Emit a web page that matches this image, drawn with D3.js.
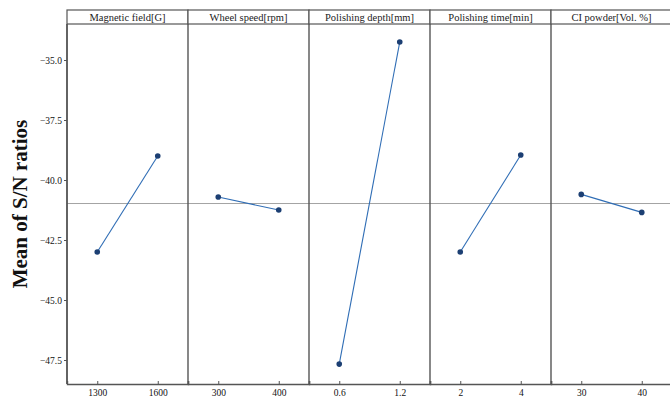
<!DOCTYPE html>
<html><head><meta charset="utf-8">
<script src="https://cdn.jsdelivr.net/npm/d3@7"></script>
<style>body{margin:0;background:#fff}svg{display:block}svg text{font-family:"Liberation Serif","Times New Roman","DejaVu Serif",serif}</style>
</head><body><svg id="c" width="670" height="398"></svg>
<script>
const factors = ["Magnetic field[G]", "Wheel speed[rpm]", "Polishing depth[mm]", "Polishing time[min]", "CI powder[Vol. %]"];
const levels = [["1300","1600"],["300","400"],["0.6","1.2"],["2","4"],["30","40"]];
const snMeans = [[-43.0,-39.0],[-40.71,-41.25],[-47.67,-34.25],[-43.0,-38.96],[-40.6,-41.35]];
const yTicks = [-35.0,-37.5,-40.0,-42.5,-45.0,-47.5];
const overallMean = -40.98;

(function(){
const svg = d3.select("#c");
const mLeft = 67, mRight = 672, mTop = 24, mBottom = 384, headerTop = 10;
const y = d3.scaleLinear().domain([-48.5,-33.5]).range([mBottom, mTop]);
const px = d3.scaleBand().domain(factors).range([mLeft, mRight]);

svg.append("line").attr("x1",mLeft).attr("x2",mRight).attr("y1",y(overallMean)).attr("y2",y(overallMean))
  .attr("stroke","#8a8a8a").attr("stroke-width",0.8);

factors.forEach((f,i)=>{
  const x0 = px(f);
  const x = d3.scalePoint().domain(levels[i]).range([x0, x0+px.bandwidth()]).padding(0.5);
  svg.append("rect").attr("x",x0).attr("y",headerTop).attr("width",px.bandwidth()).attr("height",mTop-headerTop)
    .attr("fill","#fff").attr("stroke","#555").attr("stroke-width",1.2);
  svg.append("text").attr("x",x0+px.bandwidth()/2).attr("y",headerTop+10.5).attr("text-anchor","middle")
    .style("font-size","10.5px").attr("fill","#222").text(f);
  svg.append("line").attr("x1",x0).attr("x2",x0).attr("y1",mTop).attr("y2",mBottom).attr("stroke","#555").attr("stroke-width",1.4);
  const ax = svg.append("g").attr("transform",`translate(0,${mBottom})`)
    .call(d3.axisBottom(x).tickSize(-3).tickPadding(5));
  ax.attr("font-family",null);
  ax.select(".domain").attr("stroke","#555").attr("stroke-width",1.4);
  ax.selectAll(".tick line").attr("stroke","#555");
  ax.selectAll("text").style("font-size","9.5px").attr("fill","#111");
  const pts = levels[i].map((l,j)=>[x(l), y(snMeans[i][j])]);
  svg.append("path").attr("d",d3.line()(pts)).attr("fill","none").attr("stroke","#2f6db5").attr("stroke-width",1.1);
  svg.selectAll(null).data(pts).enter().append("circle").attr("cx",d=>d[0]).attr("cy",d=>d[1]).attr("r",2.8)
    .attr("fill","#1c3f73");
});

const ay = svg.append("g").attr("transform",`translate(${mLeft},0)`)
  .call(d3.axisLeft(y).tickValues(yTicks).tickFormat(d3.format(".1f")).tickSize(3).tickPadding(2));
ay.attr("font-family",null);
ay.select(".domain").remove();
ay.selectAll(".tick line").attr("stroke","#555");
ay.selectAll("text").style("font-size","9.5px").attr("fill","#111");
svg.append("line").attr("x1",mLeft).attr("x2",mLeft).attr("y1",mTop).attr("y2",mBottom).attr("stroke","#555").attr("stroke-width",1.4);

svg.append("text").attr("transform",`translate(27,${(mTop+mBottom)/2}) rotate(-90)`).attr("text-anchor","middle")
  .style("font-size","21px").style("font-weight","bold").attr("fill","#111").text("Mean of S/N ratios");
})();
</script></body></html>
